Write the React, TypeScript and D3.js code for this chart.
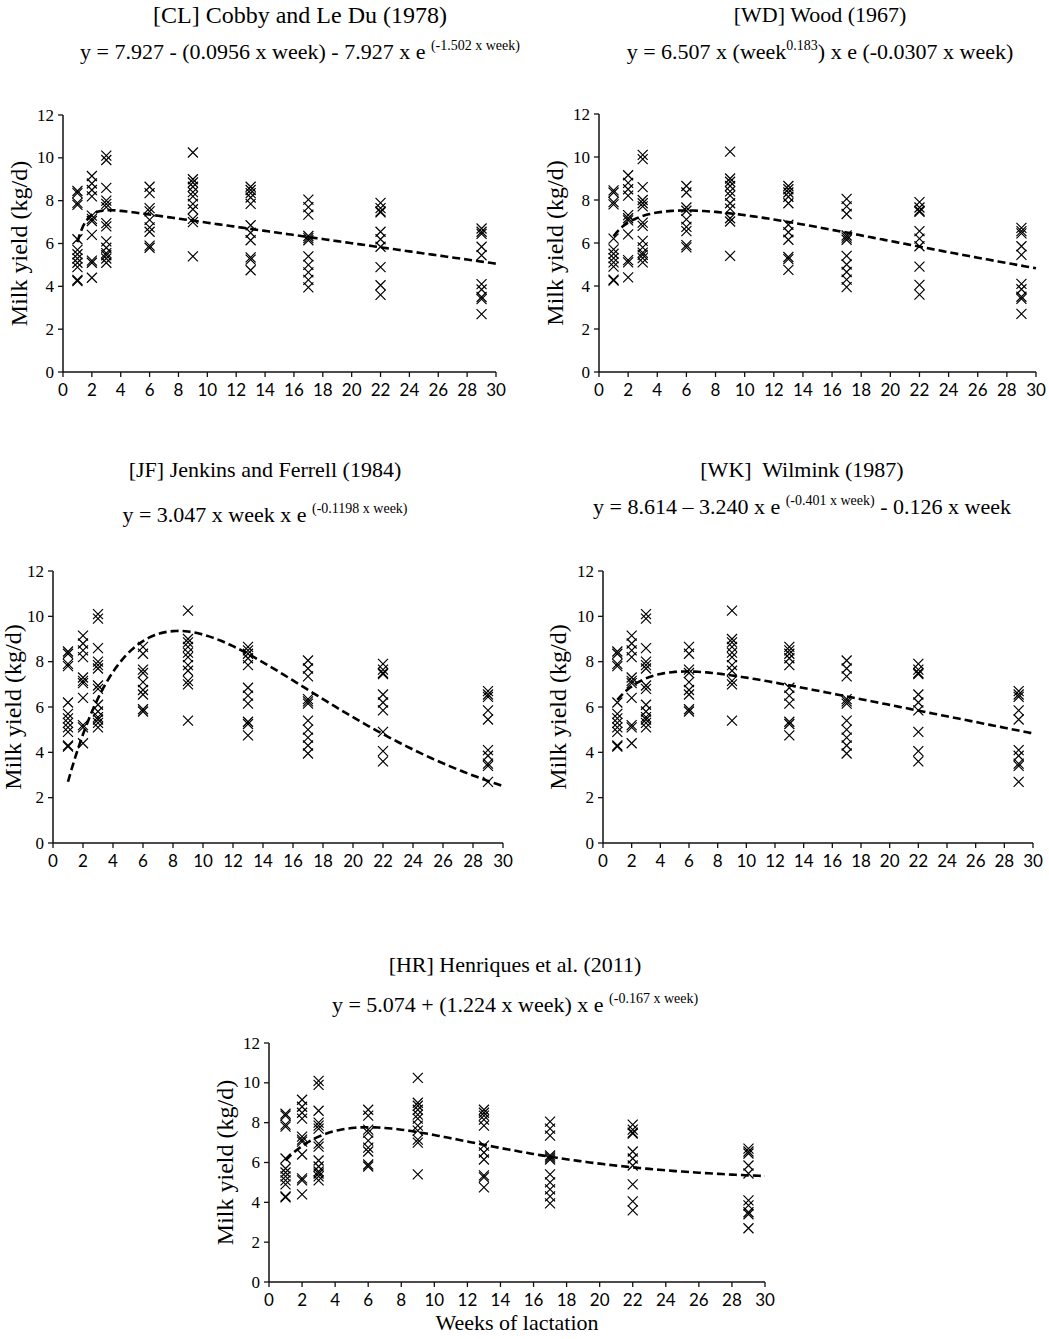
import { line, range, scaleLinear } from 'd3'

// observed milk yield (kg/d) per sampling week
const weeks = [1, 2, 3, 6, 9, 13, 17, 22, 29]
const week1 = [8.45, 8.35, 7.9, 7.8, 6.2, 5.7, 5.5, 5.3, 5.1, 4.9, 4.3, 4.25]
const week2 = [9.15, 8.8, 8.5, 8.2, 7.3, 7.15, 7.05, 6.4, 5.2, 5.1, 4.4]
const week3 = [10.1, 9.9, 8.6, 8.0, 7.85, 7.7, 6.95, 6.8, 6.1, 5.8, 5.55, 5.45, 5.3, 5.1]
const week6 = [8.65, 8.35, 7.65, 7.5, 7.1, 6.75, 6.55, 5.9, 5.8]
const week9 = [10.25, 9.0, 8.85, 8.65, 8.4, 8.2, 7.85, 7.6, 7.15, 7.0, 5.4]
const week13 = [8.65, 8.5, 8.35, 8.15, 7.85, 6.85, 6.5, 6.15, 5.35, 5.25, 4.75]
const week17 = [8.05, 7.7, 7.35, 6.35, 6.25, 6.15, 5.4, 5.0, 4.65, 4.3, 3.95]
const week22 = [7.9, 7.65, 7.5, 7.45, 6.55, 6.2, 5.85, 4.9, 4.05, 3.6]
const week29 = [6.7, 6.55, 6.45, 5.85, 5.45, 4.1, 3.85, 3.5, 3.4, 2.7]
const yieldsByWeek = [week1, week2, week3, week6, week9, week13, week17, week22, week29]

const xTicks = [0, 2, 4, 6, 8, 10, 12, 14, 16, 18, 20, 22, 24, 26, 28, 30]
const yTicks = [0, 2, 4, 6, 8, 10, 12]

// fitted lactation models, coefficients as printed in the titles
const clCoef = [7.927, 0.0956, 7.927, 1.502]
const wdCoef = [6.507, 0.183, 0.0307]
const jfCoef = [3.047, 0.1198]
const wkCoef = [8.614, 3.24, 0.401, 0.126]
const hrCoef = [5.074, 1.224, 0.167]

const models: Record<string, (w: number) => number> = {
  CL: (w) => clCoef[0] - clCoef[1] * w - clCoef[2] * Math.exp(-clCoef[3] * w),
  WD: (w) => wdCoef[0] * Math.pow(w, wdCoef[1]) * Math.exp(-wdCoef[2] * w),
  JF: (w) => jfCoef[0] * w * Math.exp(-jfCoef[1] * w),
  WK: (w) => wkCoef[0] - wkCoef[1] * Math.exp(-wkCoef[2] * w) - wkCoef[3] * w,
  HR: (w) => hrCoef[0] + hrCoef[1] * w * Math.exp(-hrCoef[2] * w),
}

const points = weeks.flatMap((w, i) => yieldsByWeek[i].map((v) => ({ w, v })))

const serif = '"Liberation Serif", "Times New Roman", serif'
const sans = 'Lato, "Open Sans", sans-serif'

interface PanelProps {
  model: string
  title: string
  titleSize?: number
  formula: [string, string, string]
  titleX: number
  titleY: number
  formulaY: number
  left: number
  right: number
  top: number
  bottom: number
  yTitleX: number
  xLabel?: boolean
}

const Panel = ({
  model,
  title,
  titleSize = 22,
  formula,
  titleX,
  titleY,
  formulaY,
  left,
  right,
  top,
  bottom,
  yTitleX,
  xLabel,
}: PanelProps) => {
  const x = scaleLinear().domain([0, 30]).range([left, right])
  const y = scaleLinear().domain([0, 12]).range([bottom, top])
  const curve = line<number>()
    .x((w) => x(w))
    .y((w) => y(models[model](w)))
  const path = curve(range(1, 30.001, 0.2)) ?? ''
  const s = 5

  return (
    <g>
      <text x={titleX} y={titleY} textAnchor="middle" fontFamily={serif} fontSize={titleSize} style={{ whiteSpace: 'pre' }}>
        {title}
      </text>
      <text x={titleX} y={formulaY} textAnchor="middle" fontFamily={serif} fontSize={22}>
        {formula[0]}
        {formula[1] && (
          <tspan fontSize={14} dy={-9}>
            {formula[1]}
          </tspan>
        )}
        {formula[2] && <tspan dy={formula[1] ? 9 : 0}>{formula[2]}</tspan>}
      </text>

      <line x1={left} x2={left} y1={top} y2={bottom} stroke="#111" strokeWidth={1.5} />
      <line x1={left} x2={right} y1={bottom} y2={bottom} stroke="#111" strokeWidth={1.5} />
      {yTicks.map((t) => (
        <g key={`y${t}`}>
          <line x1={left - 5} x2={left} y1={y(t)} y2={y(t)} stroke="#111" strokeWidth={1.3} />
          <text x={left - 9} y={y(t)} dominantBaseline="central" textAnchor="end" fontFamily={serif} fontSize={17}>
            {t}
          </text>
        </g>
      ))}
      {xTicks.map((t) => (
        <g key={`x${t}`}>
          <line x1={x(t)} x2={x(t)} y1={bottom} y2={bottom + 5} stroke="#111" strokeWidth={1.3} />
          <text x={x(t)} y={bottom + 17} dominantBaseline="central" textAnchor="middle" fontFamily={sans} fontSize={17}>
            {t}
          </text>
        </g>
      ))}
      <text
        transform={`translate(${yTitleX}, ${(top + bottom) / 2}) rotate(-90)`}
        textAnchor="middle"
        dominantBaseline="central"
        fontFamily={serif}
        fontSize={24}
      >
        Milk yield (kg/d)
      </text>
      {xLabel && (
        <text x={(left + right) / 2} y={bottom + 48} textAnchor="middle" fontFamily={serif} fontSize={22}>
          Weeks of lactation
        </text>
      )}

      {points.map((p, i) => (
        <path
          key={i}
          d={`M${x(p.w) - s},${y(p.v) - s}L${x(p.w) + s},${y(p.v) + s}M${x(p.w) - s},${y(p.v) + s}L${x(p.w) + s},${y(p.v) - s}`}
          stroke="#000"
          strokeWidth={1.2}
          fill="none"
        />
      ))}
      <path d={path} fill="none" stroke="#000" strokeWidth={2.6} strokeDasharray="8 4" />
    </g>
  )
}

const App = () => (
  <svg width={1049} height={1339} style={{ position: 'absolute', left: 0, top: 0, background: '#fff' }}>
    <rect width={1049} height={1339} fill="#fff" />
    <Panel
      model="CL"
      title="[CL] Cobby and Le Du (1978)"
      titleSize={24}
      formula={['y = 7.927 - (0.0956 x week) - 7.927 x e ', '(-1.502 x week)', '']}
      titleX={300}
      titleY={23}
      formulaY={59}
      left={63}
      right={496}
      top={115}
      bottom={372}
      yTitleX={19}
    />
    <Panel
      model="WD"
      title="[WD] Wood (1967)"
      formula={['y = 6.507 x (week', '0.183', ') x e (-0.0307 x week)']}
      titleX={820}
      titleY={22}
      formulaY={59}
      left={599}
      right={1036}
      top={114}
      bottom={372}
      yTitleX={555}
    />
    <Panel
      model="JF"
      title="[JF] Jenkins and Ferrell (1984)"
      formula={['y = 3.047 x week x e ', '(-0.1198 x week)', '']}
      titleX={265}
      titleY={477}
      formulaY={522}
      left={53}
      right={503}
      top={571}
      bottom={843}
      yTitleX={13}
    />
    <Panel
      model="WK"
      title="[WK]  Wilmink (1987)"
      formula={['y = 8.614 – 3.240 x e ', '(-0.401 x week)', ' - 0.126 x week']}
      titleX={802}
      titleY={477}
      formulaY={514}
      left={603}
      right={1033}
      top={571}
      bottom={843}
      yTitleX={558}
    />
    <Panel
      model="HR"
      title="[HR] Henriques et al. (2011)"
      formula={['y = 5.074 + (1.224 x week) x e ', '(-0.167 x week)', '']}
      titleX={515}
      titleY={972}
      formulaY={1012}
      left={269}
      right={765}
      top={1043}
      bottom={1282}
      yTitleX={225}
      xLabel
    />
  </svg>
)

export default App
